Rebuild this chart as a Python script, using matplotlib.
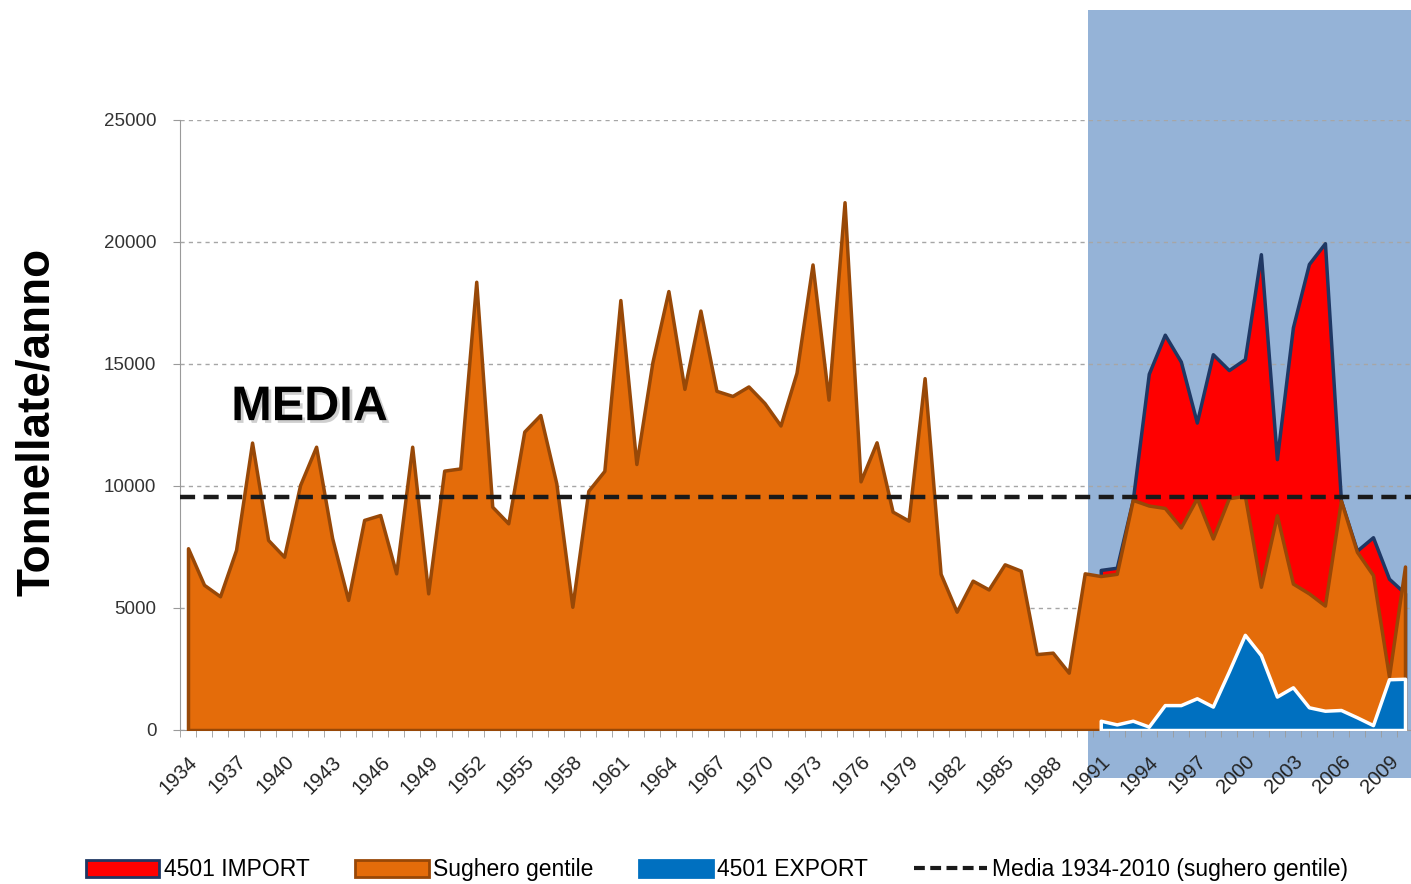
import matplotlib
matplotlib.use('Agg')
import matplotlib.pyplot as plt
import matplotlib.patheffects as pe
from matplotlib.patches import Patch, Rectangle
from matplotlib.lines import Line2D

plt.rcParams['font.family'] = ['Liberation Sans', 'DejaVu Sans']

# dati (tonnellate/anno)
anni = list(range(1934, 2011))
sughero = [7450, 5950, 5480, 7380, 11780, 7790, 7100, 10040, 11610, 7870,
           5330, 8610, 8810, 6420, 11610, 5600, 10630, 10720, 18370, 9150,
           8470, 12230, 12910, 10110, 5050, 9800, 10620, 17620, 10900, 15070,
           17990, 13980, 17190, 13900, 13690, 14080, 13400, 12480, 14640, 19080,
           13540, 21630, 10190, 11790, 8950, 8580, 14420, 6400, 4850, 6120,
           5760, 6790, 6530, 3110, 3170, 2350, 6420, 6310, 6400, 9430,
           9200, 9100, 8300, 9500, 7850, 9500, 9600, 5870, 8800, 6000,
           5600, 5100, 9400, 7300, 6350, 2190, 6700]

anni_4501 = list(range(1991, 2011))
import_4501 = [6560, 6650, 9430, 14600, 16200, 15100, 12600, 15400, 14750, 15200,
               19500, 11100, 16500, 19100, 19950, 9400, 7350, 7900, 6200, 5600]
export_4501 = [380, 230, 380, 140, 1020, 1020, 1300, 960, 2400, 3900,
               3070, 1370, 1750, 930, 790, 820, 520, 200, 2080, 2100]

media = 9550
tick_anni = list(range(1934, 2011, 3))

fig = plt.figure(figsize=(14.11, 8.84), dpi=100)
fig.patch.set_facecolor('white')

# riquadro azzurro (periodo 1991-2010)
fig.patches.append(Rectangle((1088 / 1411, 106 / 884), 1 - 1088 / 1411, 768 / 884,
                             transform=fig.transFigure, facecolor='#95B3D7',
                             edgecolor='none', zorder=-1))

ax = fig.add_axes([180 / 1411, 154 / 884, 1233 / 1411, 610 / 884])
ax.set_facecolor('none')

ax.fill_between(anni_4501, 0, import_4501, facecolor='#FF0000', edgecolor='#1F3864',
                linewidth=2.5, zorder=2)
ax.fill_between(anni, 0, sughero, facecolor='#E46C0A', edgecolor='#984807',
                linewidth=2.5, zorder=3)
ax.fill_between(anni_4501, 0, export_4501, facecolor='#0070C0', edgecolor='white',
                linewidth=2.5, zorder=4)
ax.axhline(media, color='#1a1a1a', linewidth=3.2, dashes=(3.4, 1.9), zorder=5)

ax.set_xlim(1933.6, 2010.5)
ax.set_ylim(0, 25000)
ax.set_yticks(range(0, 25001, 5000))
ax.set_xticks(tick_anni)
ax.set_xticklabels([str(a) for a in tick_anni], rotation=45, ha='right', va='top',
                   rotation_mode='anchor')
ax.set_xticks([a + 0.5 for a in range(1933, 2011)], minor=True)
ax.tick_params(axis='x', which='major', length=0, pad=16, labelsize=14.5, labelcolor='#222222')
ax.tick_params(axis='x', which='minor', length=5, color='#9a9a9a')
ax.tick_params(axis='y', length=5, color='#9a9a9a', pad=12, labelsize=13.5, labelcolor='#333333')

ax.grid(axis='y', color='#A6A6A6', linestyle=(0, (3, 3)), linewidth=1)
ax.set_axisbelow(True)
for s in ['top', 'right']:
    ax.spines[s].set_visible(False)
for s in ['left', 'bottom']:
    ax.spines[s].set_color('#9a9a9a')

fig.text(37 / 1411, 1 - 422 / 884, 'Tonnellate/anno', fontsize=33, fontweight='bold',
         rotation=90, ha='center', va='center')

ax.text(1936.7, 12700, 'MEDIA', fontsize=35, fontweight='bold', color='black',
        va='baseline', ha='left', zorder=6,
        path_effects=[pe.withSimplePatchShadow(offset=(2, -2), shadow_rgbFace='#777777', alpha=0.35)])

handles = [Patch(facecolor='#FF0000', edgecolor='#1F3864', linewidth=2),
           Patch(facecolor='#E46C0A', edgecolor='#984807', linewidth=2),
           Patch(facecolor='#0070C0', edgecolor='#0070C0', linewidth=2),
           Line2D([0], [0], color='#1a1a1a', linewidth=3, dashes=(2.6, 1.3))]
labels = ['4501 IMPORT', 'Sughero gentile', '4501 EXPORT', 'Media 1934-2010 (sughero gentile)']
fig.legend(handles, labels, loc='center', bbox_to_anchor=(0.508, 0.016), ncol=4,
           frameon=False, fontsize=16.5, handlelength=3.2, handleheight=0.75,
           handletextpad=0.2, columnspacing=2.0)

fig.savefig('out.png', dpi=100)
